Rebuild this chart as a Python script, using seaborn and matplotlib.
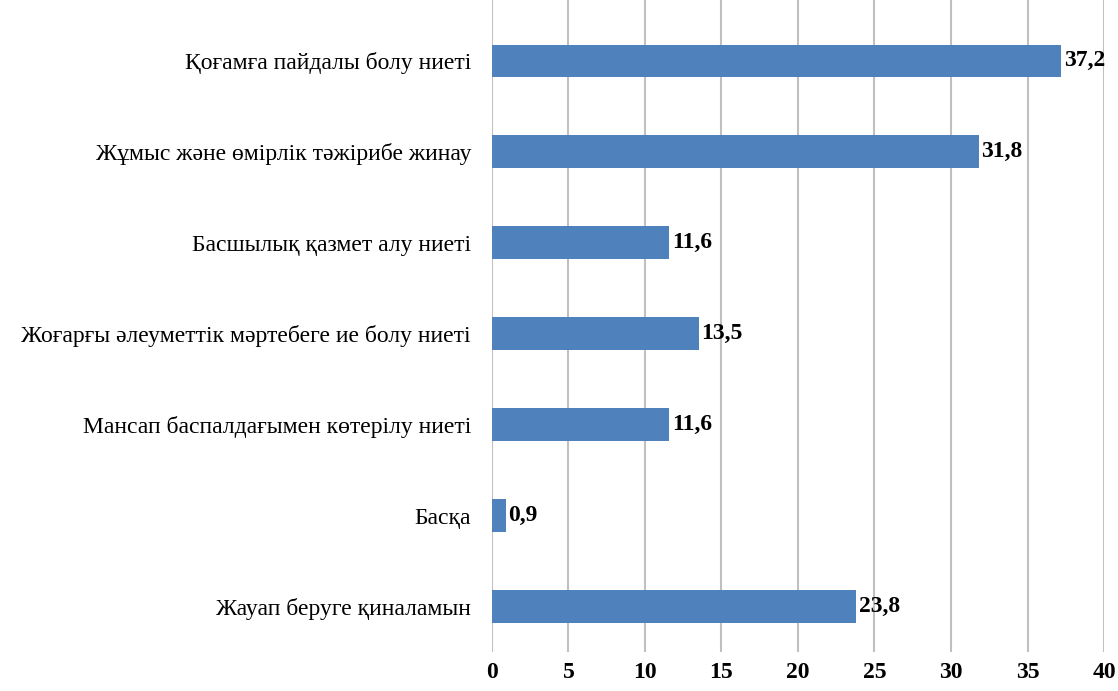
import matplotlib
matplotlib.use("Agg")
import matplotlib.pyplot as plt
import seaborn as sns
import pandas as pd

categories = [
    "Қоғамға пайдалы болу ниеті",
    "Жұмыс және өмірлік тәжірибе жинау",
    "Басшылық қазмет алу ниеті",
    "Жоғарғы әлеуметтік мәртебеге ие болу ниеті",
    "Мансап баспалдағымен көтерілу ниеті",
    "Басқа",
    "Жауап беруге қиналамын",
]
values = [37.2, 31.8, 11.6, 13.5, 11.6, 0.9, 23.8]
x_ticks = [0, 5, 10, 15, 20, 25, 30, 35, 40]

df = pd.DataFrame({"cat": categories, "val": values})

sns.set_style("white")
plt.rcParams["font.family"] = ["Liberation Serif", "DejaVu Serif"]

fig = plt.figure(figsize=(11.18, 6.91), dpi=100)
ax = fig.add_axes([0.440, 0.0564, 0.5475, 0.9436])

sns.barplot(data=df, x="val", y="cat", orient="h", color="#4F81BD",
            width=0.36, saturation=1, linewidth=0, ax=ax, zorder=3)

ax.set_xlim(0, 40)
ax.set_ylim(6.5, -0.67)
ax.set_xticks(x_ticks)
ax.set_xticklabels([str(t) for t in x_ticks], fontsize=17, fontweight="bold")
ax.tick_params(axis="x", length=0, pad=7, labelcolor="black")
ax.tick_params(axis="y", length=0, pad=15, labelsize=17, labelcolor="black")
ax.set_xlabel("")
ax.set_ylabel("")
ax.grid(axis="x", color="#C0C0C0", linewidth=1.5, zorder=0)
for s in ax.spines.values():
    s.set_visible(False)

for i, v in enumerate(values):
    ax.annotate(f"{v:.1f}".replace(".", ","), xy=(v, i), xytext=(2, 0),
                textcoords="offset points", va="center", ha="left",
                fontsize=17, fontweight="bold", color="black", zorder=4)

fig.savefig("out.png", dpi=100)
